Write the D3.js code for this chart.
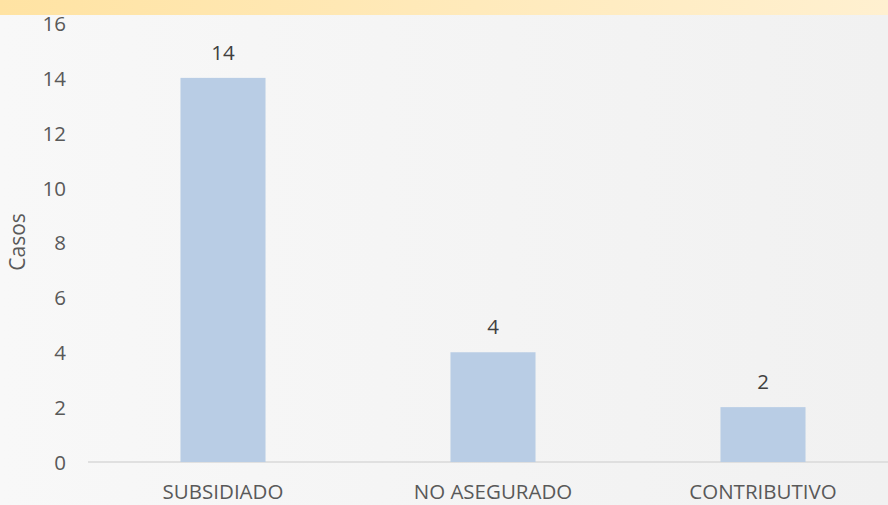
<!DOCTYPE html>
<html><head><meta charset="utf-8">
<script src="https://cdn.jsdelivr.net/npm/d3@7"></script>
<style>body{margin:0;overflow:hidden}svg{display:block}</style>
</head><body>
<svg id="c" width="888" height="505"></svg>
<script>
const categories = ["SUBSIDIADO", "NO ASEGURADO", "CONTRIBUTIVO"];
const values = [14, 4, 2];
const yTicks = [0, 2, 4, 6, 8, 10, 12, 14, 16];

const svg = d3.select("#c");
const W = 888, H = 505;
const defs = svg.append("defs");
const bgGrad = defs.append("linearGradient").attr("id","bg").attr("x1","0").attr("x2","1").attr("y1","0").attr("y2","0");
bgGrad.append("stop").attr("offset","0").attr("stop-color","#F8F8F8");
bgGrad.append("stop").attr("offset","1").attr("stop-color","#F1F1F1");
const topGrad = defs.append("linearGradient").attr("id","topband").attr("x1","0").attr("x2","1").attr("y1","0").attr("y2","0");
topGrad.append("stop").attr("offset","0").attr("stop-color","#FFE3A3");
topGrad.append("stop").attr("offset","1").attr("stop-color","#FFF0D0");

svg.append("rect").attr("width",W).attr("height",H).attr("fill","url(#bg)");
svg.append("rect").attr("width",W).attr("height",15).attr("fill","url(#topband)");

const font = "'Open Sans', 'Noto Sans', sans-serif";
const fs = 20.5;
const x = d3.scaleBand().domain(categories).range([88, 898]).paddingInner(0.685).paddingOuter(0.3425);
const y = d3.scaleLinear().domain([0, 16]).range([462, 23]);

svg.append("line").attr("x1",88).attr("x2",888).attr("y1",y(0)).attr("y2",y(0))
  .attr("stroke","#D9D9D9").attr("stroke-width",1.5);

const yAxis = d3.axisLeft(y).tickValues(yTicks).tickSize(0).tickPadding(0);
const ya = svg.append("g").attr("transform","translate(66,0)").call(yAxis);
ya.select(".domain").remove();
ya.selectAll("text").attr("font-family",font).attr("font-size",fs).attr("fill","#595959").attr("dy","0.36em");

svg.selectAll("rect.bar").data(categories).join("rect").attr("class","bar")
  .attr("x",d=>x(d)).attr("width",x.bandwidth())
  .attr("y",(d,i)=>y(values[i])).attr("height",(d,i)=>y(0)-y(values[i]))
  .attr("fill","#B9CDE5");

svg.selectAll("text.lbl").data(categories).join("text").attr("class","lbl")
  .attr("x",d=>x(d)+x.bandwidth()/2).attr("y",(d,i)=>y(values[i])-18)
  .attr("text-anchor","middle").attr("font-family",font).attr("font-size",fs).attr("fill","#404040")
  .text((d,i)=>values[i]);

const xAxis = d3.axisBottom(x).tickSize(0).tickPadding(0);
const xa = svg.append("g").attr("transform","translate(0,0)").call(xAxis);
xa.select(".domain").remove();
xa.selectAll(".tick").attr("transform",d=>`translate(${x(d)+x.bandwidth()/2},499)`);
xa.selectAll("text").attr("dy",null).attr("y",0).attr("font-family",font).attr("font-size",fs).attr("fill","#595959");

svg.append("text").attr("transform","translate(25,242) rotate(-90)").attr("text-anchor","middle")
  .attr("font-family",font).attr("font-size",21).attr("fill","#595959").text("Casos");
</script>
</body></html>
